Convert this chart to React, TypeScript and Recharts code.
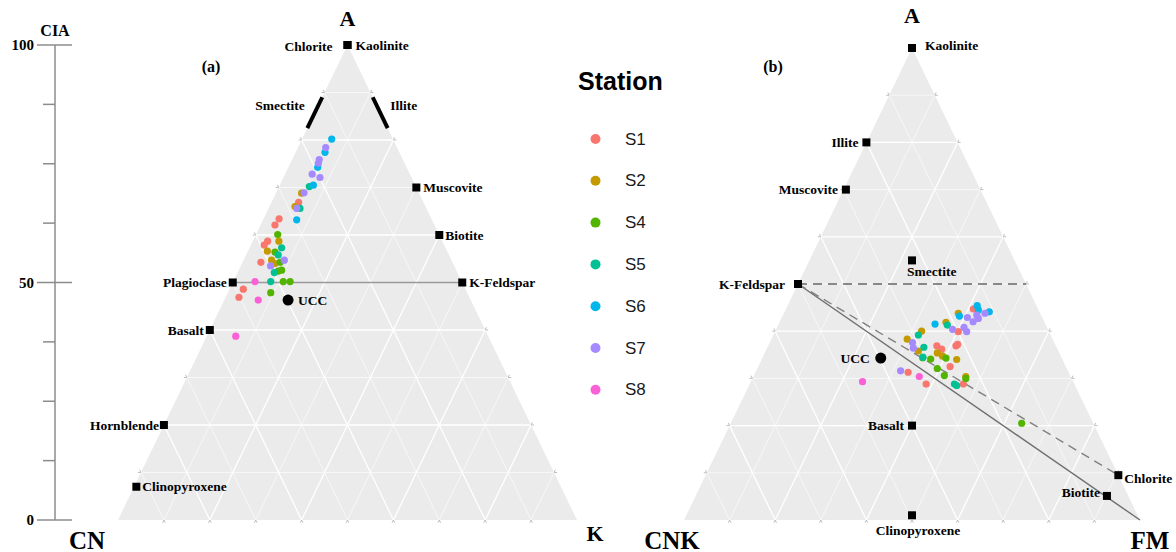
import React from 'react';
import { ScatterChart, Scatter, XAxis, YAxis } from 'recharts';

// ---------- stations ----------
const stationNames = ['S1', 'S2', 'S4', 'S5', 'S6', 'S7', 'S8'];
const stationColors = ['#F8766D', '#C49A00', '#53B400', '#00C094', '#00B6EB', '#A58AFF', '#FB61D7'];

// ---------- panel (a): A–CN–K, pairs [A %, K %] ----------
const aS1 = [[66.9, 5.9], [63.4, 3.4], [62.1, 3.15], [58.7, 3.25], [57.9, 2.9], [54.25, 4.0], [48.6, 3.0], [46.9, 2.9]];
const aS2 = [[68.8, 5.6], [66.0, 5.56], [58.7, 5.7], [56.6, 4.23], [54.7, 6.1], [54.0, 7.2]];
const aS4 = [[60.1, 4.75], [56.4, 6.0], [54.25, 8.2], [52.4, 8.7], [52.6, 9.35], [50.2, 10.9], [50.2, 12.4], [47.85, 9.35]];
const aS5 = [[70.2, 6.58], [65.6, 6.85], [57.3, 7.0], [55.8, 7.0], [52.1, 8.0], [50.2, 8.17]];
const aS6 = [[80.2, 6.46], [77.4, 6.4], [74.25, 6.38], [70.5, 7.3], [63.2, 7.33]];
const aS7 = [[78.4, 6.05], [75.9, 5.9], [75.1, 6.1], [72.8, 5.9], [72.1, 7.95], [68.9, 6.07], [65.6, 6.13], [54.7, 8.88], [53.5, 6.5]];
const aS8 = [[50.2, 4.75], [46.3, 7.4], [38.7, 6.3]];
const panelAStations = [aS1, aS2, aS4, aS5, aS6, aS7, aS8];

// ---------- panel (b): A–CNK–FM, pairs [A %, FM %] ----------
const bS1 = [[44.7, 41.1], [39.9, 40.2], [36.9, 37.0], [36.2, 38.4], [36.9, 41.2], [37.2, 41.4], [32.5, 42.1], [31.3, 33.5], [28.8, 38.7], [28.8, 46.85]];
const bS2 = [[43.8, 38.25], [41.9, 36.5], [40.0, 32.1], [38.3, 29.8], [35.8, 33.5], [35.4, 37.85], [34.7, 39.35], [34.0, 42.8], [30.4, 46.6]];
const bS4 = [[34.4, 35.15], [34.1, 37.05], [34.3, 40.3], [32.1, 39.5], [30.6, 41.8], [30.0, 46.8], [20.5, 63.8]];
const bS5 = [[41.3, 37.1], [39.2, 31.8], [36.6, 34.3], [34.5, 35.15], [28.8, 44.9], [28.5, 45.55]];
const bS6 = [[45.4, 41.6], [44.5, 42.3], [44.1, 44.9], [43.2, 38.8], [41.5, 34.3]];
const bS7 = [[43.8, 44.1], [43.4, 42.5], [42.7, 43.2], [42.0, 42.4], [42.9, 40.7], [40.4, 38.7], [40.8, 41.0], [39.9, 42.05], [37.6, 31.3], [36.4, 32.1], [31.6, 31.7]];
const bS8 = [[30.4, 36.4], [29.3, 24.5]];
const panelBStations = [bS1, bS2, bS4, bS5, bS6, bS7, bS8];

// ---------- reference minerals ----------
// panel (a): [name, A, K]
const mineralsA: [string, number, number][] = [
  ['Kaolinite', 100, 0], ['Chlorite', 100, 0], ['Muscovite', 70, 30], ['Biotite', 60, 40],
  ['K-Feldspar', 50, 50], ['Plagioclase', 50, 0], ['Basalt', 40, 0], ['Hornblende', 20, 0], ['Clinopyroxene', 7, 0.5],
];
const uccA: [number, number] = [46.3, 13.9];
const smectiteA = [[82.5, 0], [89, 0]];
const illiteA = [[82.5, 17.5], [89, 11]];
const feldsparLineA = [[50, 0], [50, 50]];
const bandLabelsA: [string, number, number][] = [['Smectite', 85.75, 0], ['Illite', 85.75, 14.25]];

// panel (b): [name, A, FM]
const mineralsB: [string, number, number][] = [
  ['Kaolinite', 100, 0], ['Illite', 80, 0], ['Muscovite', 70, 0.5], ['Smectite', 55, 22.5], ['K-Feldspar', 50, 0],
  ['Basalt', 20, 40], ['Clinopyroxene', 1, 49.5], ['Chlorite', 9.5, 90.5], ['Biotite', 5.1, 90.2],
];
const uccB: [number, number] = [34.3, 26];
const dashedTopB = [[50, 0], [50, 50]];
const solidLineB = [[50, 0], [0, 100]];
const dashedChloriteB = [[50, 0], [9.5, 90.5]];

const verticesA: [string, number, number][] = [['A', 100, 0], ['CN', 0, 0], ['K', 0, 100]];
const verticesB: [string, number, number][] = [['A', 100, 0], ['CNK', 0, 0], ['FM', 0, 100]];
const ciaTicks = [0, 12.5, 25, 37.5, 50, 62.5, 75, 87.5, 100];
const ciaLabelled = [0, 50, 100];

// ---------- helpers ----------
const tern = (a: number, b: number) => ({ x: b + a / 2, y: a });
const toPts = (arr: number[][]) => arr.map(([a, b]) => tern(a, b));
const named = (arr: [string, number, number][]) => arr.map(([n, a, b]) => ({ name: n, ...tern(a, b) }));

const SERIF = '"Liberation Serif", "Times New Roman", serif';
const SANS = '"Liberation Sans", Arial, sans-serif';

function gridPts(major: boolean) {
  const pts: { x: number; y: number }[] = [];
  for (let v = 10; v <= 90; v += 10) {
    if ((v % 20 === 0) !== major) continue;
    pts.push(tern(v, 0), tern(v, 100 - v)); // A = v
    pts.push(tern(0, v), tern(100 - v, v)); // right component = v
    pts.push(tern(0, 100 - v), tern(100 - v, 0)); // left component = v
  }
  return pts;
}
const triPts = [tern(0, 0), tern(0, 100), tern(100, 0)];

const pairLines = (stroke: string, width: number) => (props: any) => {
  const pts = props.points || [];
  const segs: any[] = [];
  for (let i = 0; i + 1 < pts.length; i += 2) {
    const p = pts[i], q = pts[i + 1];
    const len = Math.hypot(q.x - p.x, q.y - p.y) || 1;
    const ux = (q.x - p.x) / len, uy = (q.y - p.y) / len;
    segs.push(<line key={`g${i}`} x1={p.x} y1={p.y} x2={q.x} y2={q.y} stroke={stroke} strokeWidth={width} />);
    segs.push(<line key={`t${i}a`} x1={p.x} y1={p.y} x2={p.x - ux * 3} y2={p.y - uy * 3} stroke="#b5b5b5" strokeWidth={0.9} />);
    segs.push(<line key={`t${i}b`} x1={q.x} y1={q.y} x2={q.x + ux * 3} y2={q.y + uy * 3} stroke="#b5b5b5" strokeWidth={0.9} />);
  }
  return <g>{segs}</g>;
};
const polyShape = (props: any) => (
  <polygon points={(props.points || []).map((p: any) => `${p.x},${p.y}`).join(' ')} fill="#EBEBEB" stroke="none" />
);
const noDot = () => <g />;

type Place = { anchor: 'start' | 'end' | 'middle'; dx: number; dy: number; marker?: boolean };
const placeA: Record<string, Place> = {
  Kaolinite: { anchor: 'start', dx: 8, dy: 0 },
  Chlorite: { anchor: 'end', dx: -15, dy: 1 },
  Muscovite: { anchor: 'start', dx: 7, dy: 0 },
  Biotite: { anchor: 'start', dx: 6, dy: 0 },
  'K-Feldspar': { anchor: 'start', dx: 7, dy: 0 },
  Plagioclase: { anchor: 'end', dx: -6, dy: 0 },
  Basalt: { anchor: 'end', dx: -6, dy: 0 },
  Hornblende: { anchor: 'end', dx: -5, dy: 0 },
  Clinopyroxene: { anchor: 'start', dx: 6, dy: 0 },
  Smectite: { anchor: 'end', dx: -10, dy: -7, marker: false },
  Illite: { anchor: 'start', dx: 10, dy: -7, marker: false },
};
const placeB: Record<string, Place> = {
  Kaolinite: { anchor: 'start', dx: 13, dy: -3 },
  Illite: { anchor: 'end', dx: -8, dy: 0 },
  Muscovite: { anchor: 'end', dx: -8, dy: 0 },
  Smectite: { anchor: 'start', dx: -5, dy: 11 },
  'K-Feldspar': { anchor: 'end', dx: -13, dy: 0 },
  Basalt: { anchor: 'end', dx: -8, dy: 0 },
  Clinopyroxene: { anchor: 'middle', dx: 6, dy: 15 },
  Chlorite: { anchor: 'start', dx: 6, dy: 3 },
  Biotite: { anchor: 'end', dx: -7, dy: -3 },
};
const vertexPlace: Record<string, { dx: number; dy: number; size: number }> = {
  'a-A': { dx: 0, dy: -27, size: 22 }, 'a-CN': { dx: -31, dy: 20, size: 25 }, 'a-K': { dx: 18, dy: 13, size: 22 },
  'b-A': { dx: 0, dy: -33, size: 22 }, 'b-CNK': { dx: -12, dy: 20, size: 25 }, 'b-FM': { dx: 10, dy: 20, size: 25 },
};

const mineralShape = (place: Record<string, Place>) => (p: any) => {
  const pl = place[p.payload.name] || { anchor: 'start', dx: 7, dy: 0 };
  return (
    <g>
      {pl.marker === false ? null : <rect x={p.cx - 4} y={p.cy - 4} width={8} height={8} fill="#000" />}
      <text x={p.cx + pl.dx} y={p.cy + pl.dy} textAnchor={pl.anchor} dominantBaseline="central"
        fontFamily={SERIF} fontWeight="bold" fontSize={13.5} fill="#000">{p.payload.name}</text>
    </g>
  );
};
const uccShape = (dx: number, anchor: 'start' | 'end') => (p: any) => (
  <g>
    <circle cx={p.cx} cy={p.cy} r={5.5} fill="#000" />
    <text x={p.cx + dx} y={p.cy} textAnchor={anchor} dominantBaseline="central"
      fontFamily={SERIF} fontWeight="bold" fontSize={13.5} fill="#000">UCC</text>
  </g>
);
const vertexShape = (panel: string) => (p: any) => {
  const v = vertexPlace[`${panel}-${p.payload.name}`];
  return (
    <text x={p.cx + v.dx} y={p.cy + v.dy} textAnchor="middle" dominantBaseline="central"
      fontFamily={SERIF} fontWeight="bold" fontSize={v.size} fill="#000">{p.payload.name}</text>
  );
};
const dotShape = (color: string) => (p: any) => <circle cx={p.cx} cy={p.cy} r={3.6} fill={color} />;

function TernaryBase() {
  return [
    <Scatter key="tri" data={triPts} line={polyShape} shape={noDot} isAnimationActive={false} />,
    <Scatter key="gmin" data={gridPts(false)} line={pairLines('#FFFFFF', 0.6)} shape={noDot} isAnimationActive={false} />,
    <Scatter key="gmaj" data={gridPts(true)} line={pairLines('#FFFFFF', 1.3)} shape={noDot} isAnimationActive={false} />,
  ];
}

const axes = [
  <XAxis key="x" type="number" dataKey="x" domain={[0, 100]} hide />,
  <YAxis key="y" type="number" dataKey="y" domain={[0, 100]} hide />,
];

function PanelA() {
  return (
    <ScatterChart width={625} height={552} margin={{ top: 45, right: 48, bottom: 32, left: 118 }}>
      {axes}
      {TernaryBase()}
      <Scatter data={toPts(feldsparLineA)} line={{ stroke: '#9a9a9a', strokeWidth: 1.6 }} shape={noDot} isAnimationActive={false} />
      <Scatter data={toPts(smectiteA)} line={{ stroke: '#000', strokeWidth: 4 }} shape={noDot} isAnimationActive={false} />
      <Scatter data={toPts(illiteA)} line={{ stroke: '#000', strokeWidth: 4 }} shape={noDot} isAnimationActive={false} />
      {panelAStations.map((s, i) => (
        <Scatter key={stationNames[i]} name={stationNames[i]} data={toPts(s)} shape={dotShape(stationColors[i])} isAnimationActive={false} />
      ))}
      <Scatter data={[tern(uccA[0], uccA[1])]} shape={uccShape(10, 'start')} isAnimationActive={false} />
      <Scatter data={named(mineralsA)} shape={mineralShape(placeA)} isAnimationActive={false} />
      <Scatter data={named(bandLabelsA)} shape={mineralShape(placeA)} isAnimationActive={false} />
      <Scatter data={named(verticesA)} shape={vertexShape('a')} isAnimationActive={false} />
    </ScatterChart>
  );
}

function PanelB() {
  return (
    <ScatterChart width={536} height={552} margin={{ top: 48, right: 36, bottom: 32, left: 44 }}>
      {axes}
      {TernaryBase()}
      <Scatter data={toPts(dashedTopB)} line={{ stroke: '#666', strokeWidth: 1.6, strokeDasharray: '9 6' }} shape={noDot} isAnimationActive={false} />
      <Scatter data={toPts(solidLineB)} line={{ stroke: '#6e6e6e', strokeWidth: 1.4 }} shape={noDot} isAnimationActive={false} />
      <Scatter data={toPts(dashedChloriteB)} line={{ stroke: '#808080', strokeWidth: 1.4, strokeDasharray: '9 6' }} shape={noDot} isAnimationActive={false} />
      {panelBStations.map((s, i) => (
        <Scatter key={stationNames[i]} name={stationNames[i]} data={toPts(s)} shape={dotShape(stationColors[i])} isAnimationActive={false} />
      ))}
      <Scatter data={[tern(uccB[0], uccB[1])]} shape={uccShape(-11, 'end')} isAnimationActive={false} />
      <Scatter data={named(mineralsB)} shape={mineralShape(placeB)} isAnimationActive={false} />
      <Scatter data={named(verticesB)} shape={vertexShape('b')} isAnimationActive={false} />
    </ScatterChart>
  );
}

const CiaTick = (props: any) => {
  const { x, y, payload } = props;
  const v = payload.value;
  const major = ciaLabelled.includes(v);
  return (
    <g>
      {major ? (
        <>
          <line x1={x - 18} x2={x + 17} y1={y} y2={y} stroke="#8c8c8c" strokeWidth={1.5} />
          <text x={x - 21} y={y} textAnchor="end" dominantBaseline="central" fontFamily={SERIF} fontWeight="bold" fontSize={15} fill="#000">{v}</text>
        </>
      ) : (
        <line x1={x - 12} x2={x} y1={y} y2={y} stroke="#8c8c8c" strokeWidth={1.5} />
      )}
    </g>
  );
};

function CiaAxis() {
  const anchorData = ciaLabelled.map((v) => ({ x: 0.5, y: v }));
  return (
    <ScatterChart width={80} height={552} margin={{ top: 45, right: 0, bottom: 32, left: 0 }}>
      <XAxis type="number" dataKey="x" domain={[0, 1]} hide />
      <YAxis type="number" dataKey="y" domain={[0, 100]} ticks={ciaTicks} width={55} interval={0}
        axisLine={{ stroke: '#8c8c8c', strokeWidth: 1.5 }} tickLine={false} tickSize={0} tickMargin={0}
        tick={(p: any) => <CiaTick {...p} />} />
      <Scatter data={anchorData} shape={noDot} isAnimationActive={false} />
    </ScatterChart>
  );
}

function LegendBox() {
  return (
    <svg width={120} height={360} style={{ position: 'absolute', left: 560, top: 60 }}>
      <text x={18} y={30} fontFamily={SANS} fontWeight="bold" fontSize={25} fill="#000">Station</text>
      {stationNames.map((n, i) => (
        <g key={n}>
          <circle cx={35.5} cy={79 + i * 41.8} r={5} fill={stationColors[i]} />
          <text x={65} y={79 + i * 41.8} dominantBaseline="central" fontFamily={SANS} fontSize={17} fill="#1a1a1a">{n}</text>
        </g>
      ))}
    </svg>
  );
}

export default function App() {
  return (
    <div style={{ position: 'absolute', left: 0, top: 0, width: 1176, height: 552, background: '#fff', overflow: 'hidden' }}>
      <div style={{ position: 'absolute', left: 0, top: 0 }}><PanelA /></div>
      <div style={{ position: 'absolute', left: 640, top: 0 }}><PanelB /></div>
      <div style={{ position: 'absolute', left: 0, top: 0 }}><CiaAxis /></div>
      <svg width={1176} height={552} style={{ position: 'absolute', left: 0, top: 0, pointerEvents: 'none' }}>
        <text x={55} y={30} textAnchor="middle" dominantBaseline="central" fontFamily={SERIF} fontWeight="bold" fontSize={16}>CIA</text>
        <text x={211} y={66} textAnchor="middle" dominantBaseline="central" fontFamily={SERIF} fontWeight="bold" fontSize={16}>(a)</text>
        <text x={773} y={66} textAnchor="middle" dominantBaseline="central" fontFamily={SERIF} fontWeight="bold" fontSize={16}>(b)</text>
      </svg>
      <LegendBox />
    </div>
  );
}
